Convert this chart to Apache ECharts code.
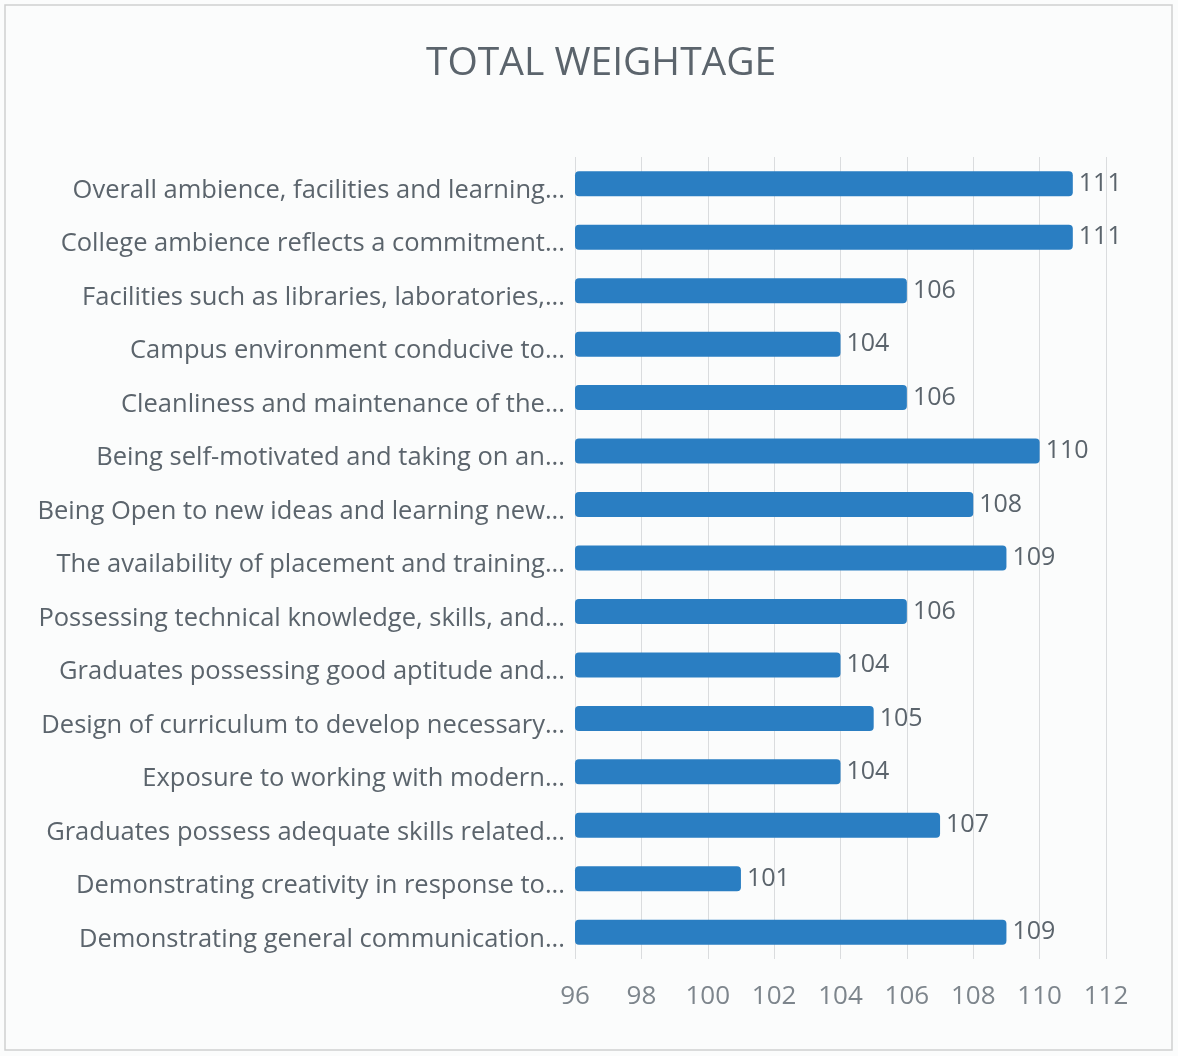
<!DOCTYPE html>
<html>
<head>
<meta charset="utf-8">
<script src="https://cdn.jsdelivr.net/npm/echarts@6/dist/echarts.min.js"></script>
<style>
  html, body { margin: 0; padding: 0; background: #fff; }
  #chart { width: 1178px; height: 1056px; }
</style>
</head>
<body>
<div id="chart"></div>
<script>
// statements, top to bottom as shown
const categories = [
  "Overall ambience, facilities and learning...",
  "College ambience reflects a commitment...",
  "Facilities such as libraries, laboratories,...",
  "Campus environment conducive to...",
  "Cleanliness and maintenance of the...",
  "Being self-motivated and taking on an...",
  "Being Open to new ideas and learning new...",
  "The availability of placement and training...",
  "Possessing technical knowledge, skills, and...",
  "Graduates possessing good aptitude and...",
  "Design of curriculum to develop necessary...",
  "Exposure to working with modern...",
  "Graduates possess adequate skills related...",
  "Demonstrating creativity in response to...",
  "Demonstrating general communication..."
];
const totals = [111, 111, 106, 104, 106, 110, 108, 109, 106, 104, 105, 104, 107, 101, 109];
const xTicks = [96, 98, 100, 102, 104, 106, 108, 110, 112];

const textGray = "#5b646c";
const font = "Open Sans";

const chart = echarts.init(document.getElementById("chart"));
chart.setOption({
  backgroundColor: "#fbfcfc",
  animation: false,
  title: {
    text: "TOTAL WEIGHTAGE",
    left: 421,
    top: 39,
    textStyle: { fontFamily: font, fontSize: 39, fontWeight: "normal", color: textGray }
  },
  graphic: [{
    type: "rect",
    shape: { x: 5, y: 5, width: 1167, height: 1045 },
    style: { fill: "none", stroke: "#d0d0d0", lineWidth: 1.5 },
    silent: true
  }],
  grid: { left: 575, right: 72, top: 157, bottom: 97 },
  xAxis: {
    type: "value",
    min: xTicks[0],
    max: xTicks[xTicks.length - 1],
    interval: 2,
    axisLine: { show: false },
    axisTick: { show: false },
    axisLabel: { margin: 25, fontFamily: font, fontSize: 26, color: "#7d858c" },
    splitLine: { show: true, lineStyle: { color: "#dadcde", width: 1 } }
  },
  yAxis: {
    type: "category",
    inverse: true,
    data: categories,
    axisLine: { show: false },
    axisTick: { show: false },
    axisLabel: {
      margin: 10,
      fontFamily: font,
      fontSize: 25.5,
      color: textGray,
      verticalAlign: "top",
      lineHeight: 14
    }
  },
  series: [{
    type: "bar",
    data: totals,
    barWidth: 25,
    itemStyle: { color: "#2a7ec2", borderRadius: 4 },
    label: {
      show: true,
      position: "right",
      distance: 6,
      fontFamily: font,
      fontSize: 25,
      color: textGray
    }
  }]
});
</script>
</body>
</html>
